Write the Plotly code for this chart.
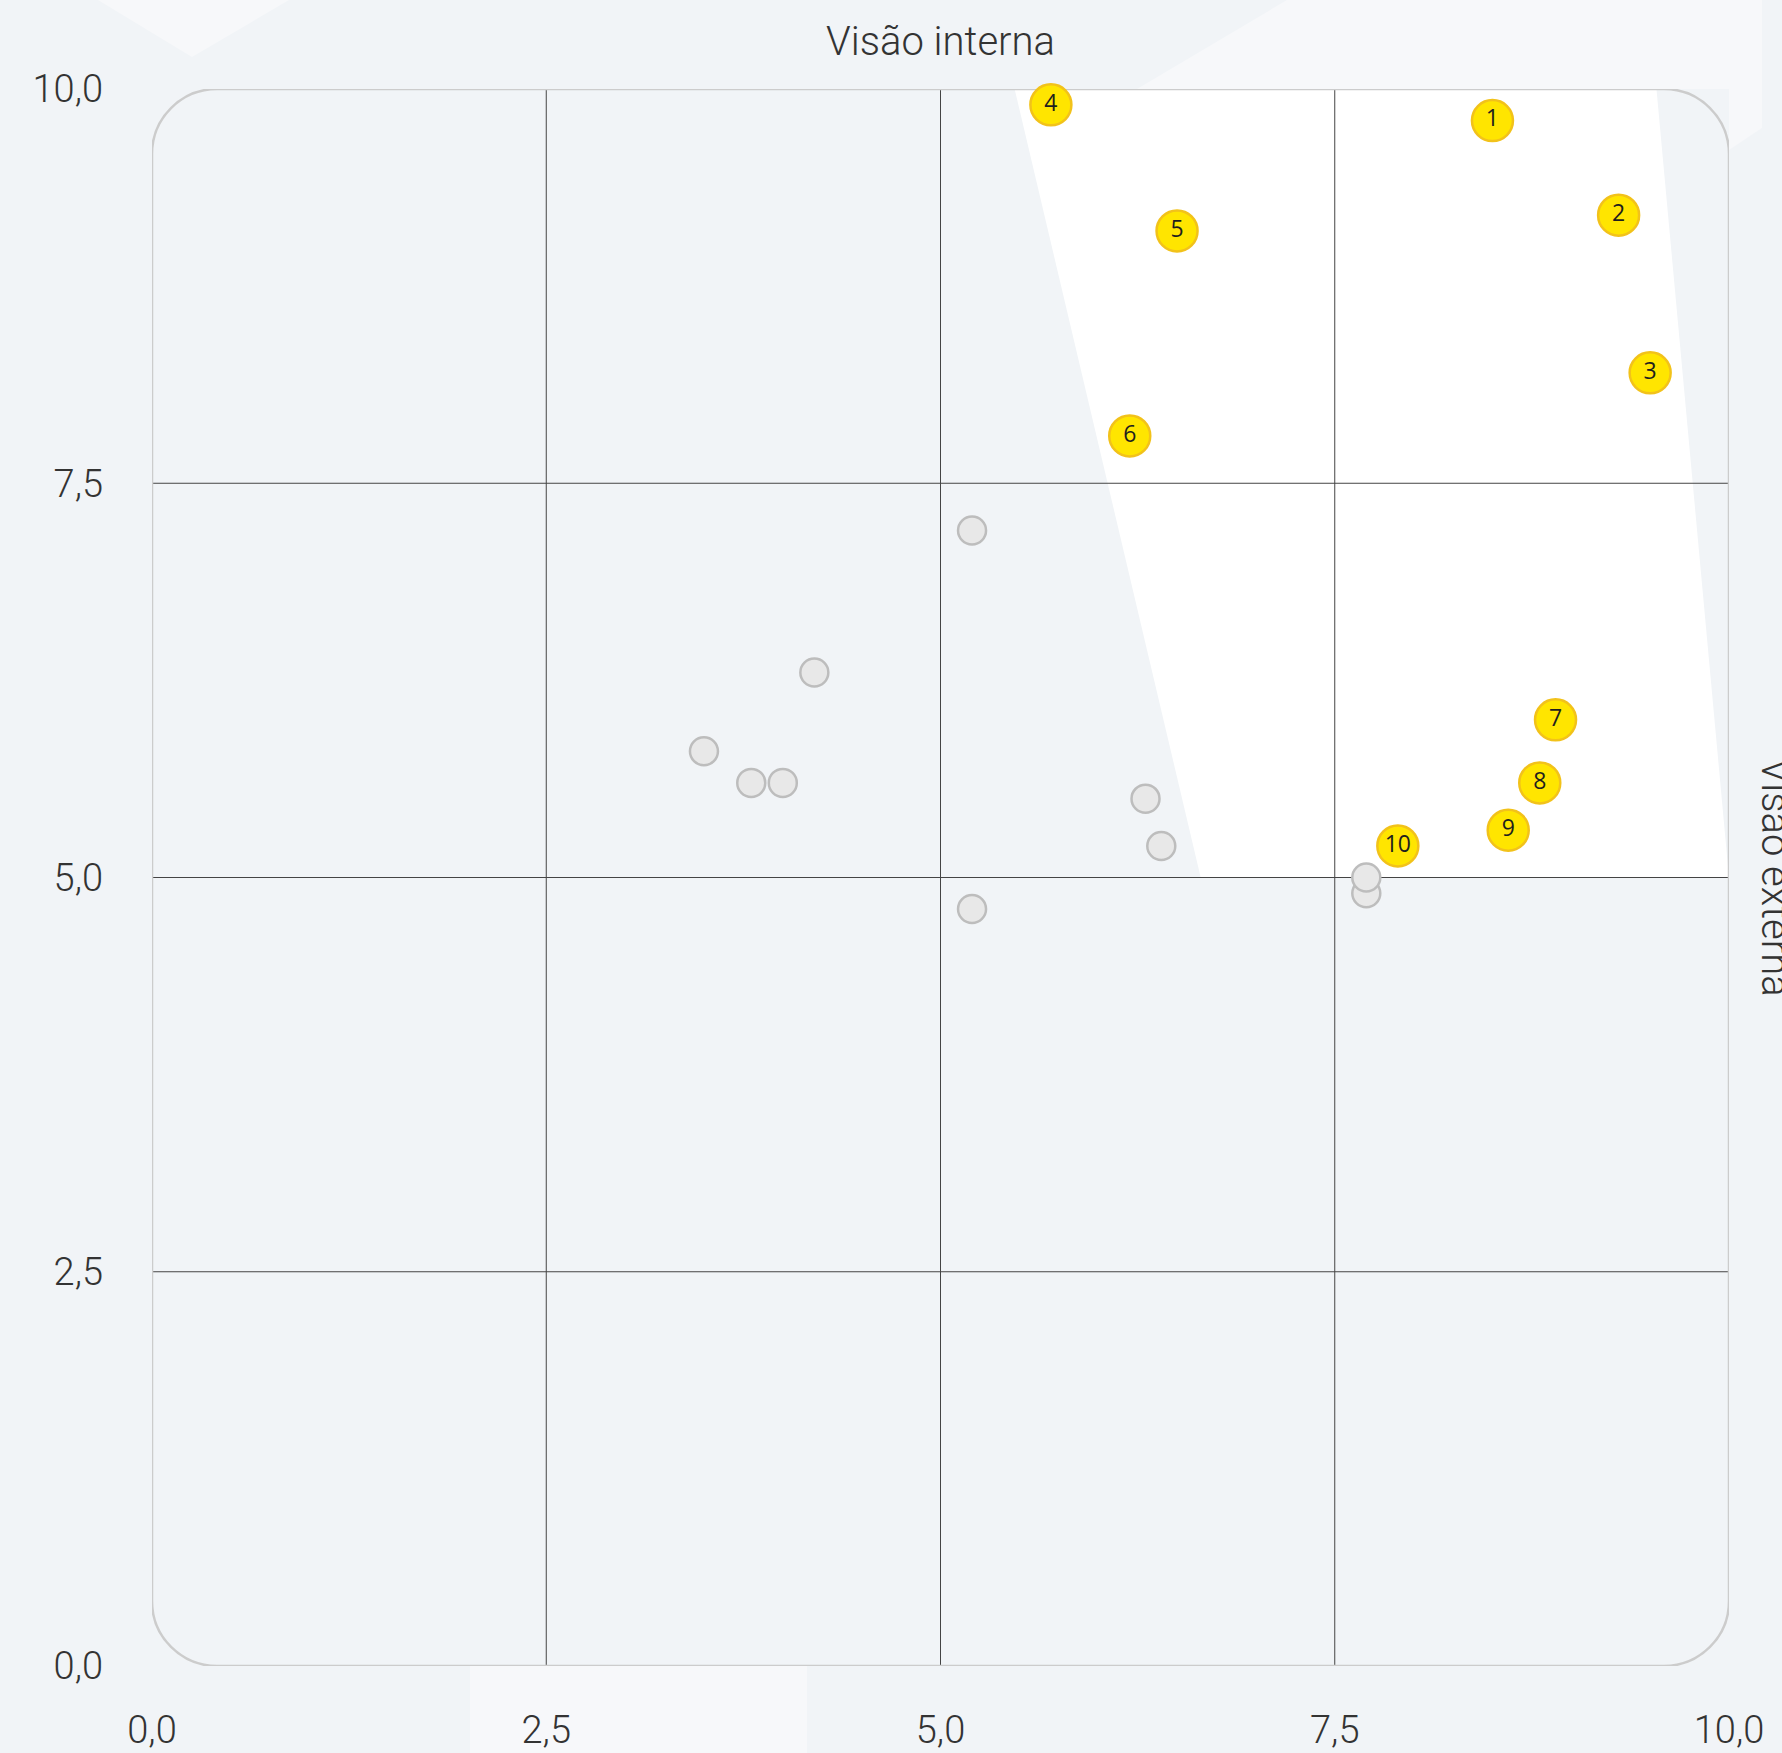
import plotly.graph_objects as go

# ---- data ----
highlight_labels = ["1", "2", "3", "4", "5", "6", "7", "8", "9", "10"]
highlight_x = [8.5, 9.3, 9.5, 5.7, 6.5, 6.2, 8.9, 8.8, 8.6, 7.9]
highlight_y = [9.8, 9.2, 8.2, 9.9, 9.1, 7.8, 6.0, 5.6, 5.3, 5.2]

other_x = [5.2, 4.2, 3.5, 3.8, 4.0, 6.3, 6.4, 5.2, 7.7, 7.7]
other_y = [7.2, 6.3, 5.8, 5.6, 5.6, 5.5, 5.2, 4.8, 4.9, 5.0]

axis_range = [0, 10]
tick_step = 2.5
inner_grid = [2.5, 5.0, 7.5]
x_title = "Visão interna"
y_title = "Visão externa"

# highlighted zone (white polygon) in data units
zone_x = [5.47, 9.54, 10.0, 6.65]
zone_y = [10.0, 10.0, 5.0, 5.0]

BG = "#F1F4F7"
LIGHT = "#F7F8FA"
W, H = 1782, 1753
L, R, T, B = 152, 53, 89, 87

fig = go.Figure()

fig.add_trace(go.Scatter(
    x=other_x, y=other_y, mode="markers",
    marker=dict(size=28, color="#E8E8E8", line=dict(color="#BDBDBD", width=2.5)),
    hoverinfo="skip", cliponaxis=False, showlegend=False,
))
fig.add_trace(go.Scatter(
    x=highlight_x, y=highlight_y, mode="markers+text",
    text=highlight_labels, textposition="middle center",
    textfont=dict(family="Open Sans", size=23, color="#1E1E1E"),
    marker=dict(size=41, color="#FFE500", line=dict(color="#F2C21A", width=2.5)),
    hoverinfo="skip", cliponaxis=False, showlegend=False,
))

shapes = []


def px(xp):
    return (xp - L) / (W - L - R)


def py(yp):
    return 1 - (yp - T) / (H - T - B)


def paper_path(pts):
    return "M " + " L ".join(f"{px(a):.5f},{py(b):.5f}" for a, b in pts) + " Z"


# background decorations
shapes.append(dict(type="path", xref="paper", yref="paper", layer="below",
                   path=paper_path([(98, 0), (289, 0), (192, 57)]),
                   fillcolor=LIGHT, line=dict(width=0)))
shapes.append(dict(type="path", xref="paper", yref="paper", layer="below",
                   path=paper_path([(1137, 89), (1287, 0), (1762, 0), (1762, 128),
                                    (1729, 150), (1729, 89)]),
                   fillcolor=LIGHT, line=dict(width=0)))
shapes.append(dict(type="rect", xref="paper", yref="paper", layer="below",
                   x0=px(470), x1=px(807), y0=py(1753), y1=0,
                   fillcolor=LIGHT, line=dict(width=0)))

# white zone
zone_path = "M " + " L ".join(f"{a},{b}" for a, b in zip(zone_x, zone_y)) + " Z"
shapes.append(dict(type="path", xref="x", yref="y", layer="below", path=zone_path,
                   fillcolor="#FFFFFF", line=dict(width=0)))

# inner grid lines
for g in inner_grid:
    shapes.append(dict(type="line", xref="x", yref="y", layer="below",
                       x0=g, x1=g, y0=axis_range[0], y1=axis_range[1],
                       line=dict(color="#444444", width=1)))
    shapes.append(dict(type="line", xref="x", yref="y", layer="below",
                       x0=axis_range[0], x1=axis_range[1], y0=g, y1=g,
                       line=dict(color="#444444", width=1)))

# rounded border
a0, a1 = axis_range
r = 65 / ((W - L - R) / (a1 - a0))
c = 0.5523 * r
border = (
    f"M {a0 + r},{a0} L {a1 - r},{a0} "
    f"C {a1 - r + c},{a0} {a1},{a0 + r - c} {a1},{a0 + r} "
    f"L {a1},{a1 - r} "
    f"C {a1},{a1 - r + c} {a1 - r + c},{a1} {a1 - r},{a1} "
    f"L {a0 + r},{a1} "
    f"C {a0 + r - c},{a1} {a0},{a1 - r + c} {a0},{a1 - r} "
    f"L {a0},{a0 + r} "
    f"C {a0},{a0 + r - c} {a0 + r - c},{a0} {a0 + r},{a0} Z"
)
shapes.append(dict(type="path", xref="x", yref="y", layer="below", path=border,
                   fillcolor="rgba(0,0,0,0)", line=dict(color="#CCCCCC", width=2.5)))

tick_font = dict(family="Roboto", size=38, color="#333333", weight=300)
title_font = dict(family="Roboto", size=40, color="#333333", weight=300)

fig.update_layout(
    width=W, height=H,
    margin=dict(l=L, r=R, t=T, b=B, autoexpand=False),
    paper_bgcolor=BG, plot_bgcolor=BG,
    separators=", ",
    shapes=shapes,
    showlegend=False,
    annotations=[
        dict(text=x_title, xref="paper", yref="paper", x=0.5, y=1, yshift=48,
             xanchor="center", yanchor="middle", showarrow=False, font=title_font),
        dict(text=y_title, xref="paper", yref="paper", x=1, y=0.5, xshift=46,
             xanchor="center", yanchor="middle", showarrow=False, textangle=90,
             font=title_font),
    ],
)
fig.update_xaxes(range=axis_range, tick0=0, dtick=tick_step, tickformat=".1f",
                 showgrid=False, zeroline=False, showline=False, ticks="",
                 automargin=False,
                 tickfont=tick_font, ticklabelstandoff=38, fixedrange=True)
fig.update_yaxes(range=axis_range, tick0=0, dtick=tick_step, tickformat=".1f",
                 showgrid=False, zeroline=False, showline=False, ticks="",
                 automargin=False,
                 tickfont=tick_font, ticklabelstandoff=48, fixedrange=True)

fig.write_html(
    "out.html",
    config={"displayModeBar": False},
    post_script=("document.body.style.margin='0';"
                 "document.body.style.background='" + BG + "';"),
)
